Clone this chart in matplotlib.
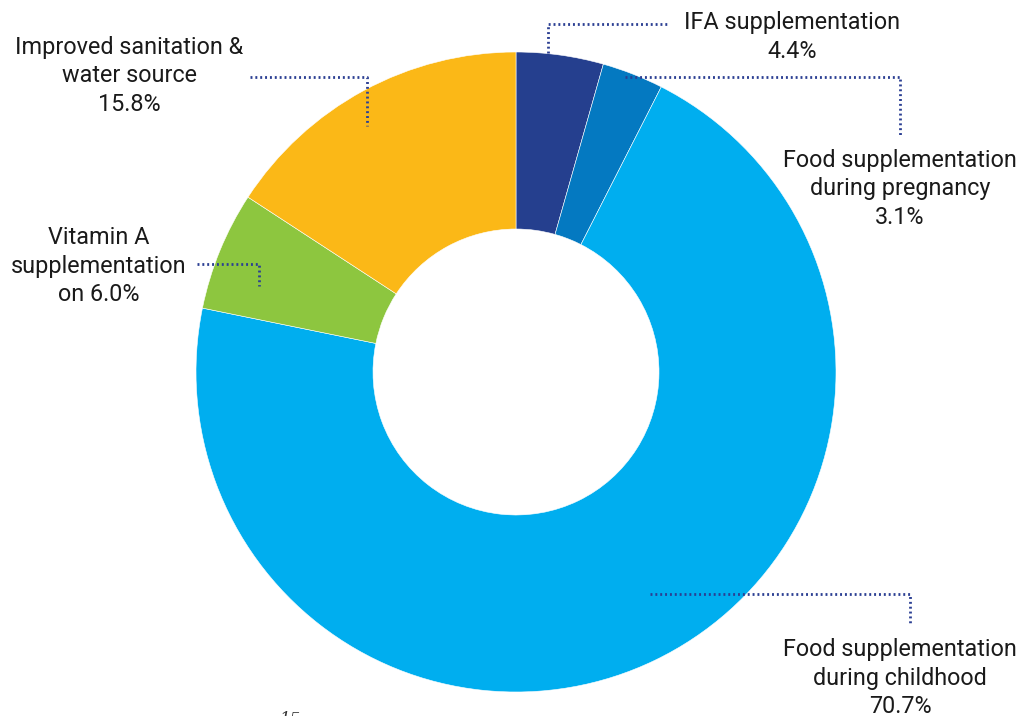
import matplotlib.pyplot as plt

plt.rcParams['font.family'] = ['Roboto', 'DejaVu Sans']

# shares, clockwise from the top
labels = ['IFA supplementation', 'Food supplementation\nduring pregnancy',
          'Food supplementation\nduring childhood', 'Vitamin A\nsupplementation\non',
          'Improved sanitation &\nwater source']
shares = [4.4, 3.1, 70.7, 6.0, 15.8]
colors = ['#253f8e', '#0479c1', '#00aeef', '#8dc63f', '#fbb817']
# the share goes on the same line for the Vitamin A label
same_line = [False, False, False, True, False]

W, H = 1021, 716
navy = '#2b3f93'


def py(y):
    # page coordinates, y measured from the top
    return H - y


fig = plt.figure(figsize=(W / 100, H / 100), dpi=100)
ax = fig.add_axes([0, 0, 1, 1])

ax.pie(shares, colors=colors, startangle=90, counterclock=False,
       center=(516, py(372)), radius=320,
       wedgeprops=dict(width=177, edgecolor='white', linewidth=0.4))

# pie() resets the limits, so set them afterwards
ax.set_xlim(0, W)
ax.set_ylim(0, H)
ax.set_aspect('equal')
ax.axis('off')

# dotted leader lines
leaders = [
    [(548, 53), (548, 24), (667, 24)],
    [(625, 77), (900, 77), (900, 135)],
    [(650, 594), (910, 594), (910, 625)],
    [(197, 264), (259, 264), (259, 286)],
    [(250, 77), (367, 77), (367, 126)],
]
for pts in leaders:
    ax.plot([p[0] for p in pts], [py(p[1]) for p in pts], color=navy,
            lw=2, linestyle=(0, (0.7, 1.05)))

# label text: name lines then the share
spots = [(792, 37), (900, 189), (900, 678), (99, 266), (129, 76)]
for lab, val, one, (x, y) in zip(labels, shares, same_line, spots):
    sep = ' ' if one else '\n'
    ax.text(x, py(y), lab + sep + '%.1f%%' % val, ha='center', va='center',
            fontsize=16.8, color='#1a1a1a', linespacing=1.3)

ax.text(290, py(719), '15', ha='center', va='center', fontsize=12,
        family='DejaVu Serif', style='italic', color='#333333')

fig.savefig('out.png', dpi=100)
